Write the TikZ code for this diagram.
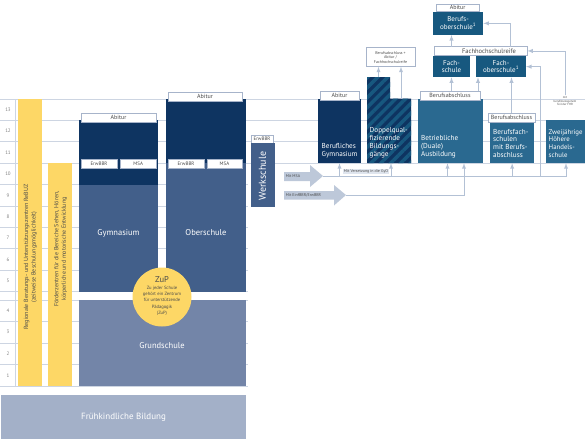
\documentclass[tikz,border=0pt]{standalone}
\usepackage{fontspec}
\setmainfont{PT Sans}
\usetikzlibrary{patterns.meta}

\definecolor{navy}{HTML}{0E3461}
\definecolor{mittel}{HTML}{425F8A}
\definecolor{grund}{HTML}{7385A8}
\definecolor{frueh}{HTML}{A3B0C8}
\definecolor{petrol}{HTML}{17587F}
\definecolor{petrolhell}{HTML}{2A6990}
\definecolor{gelb}{HTML}{FDD766}
\definecolor{linie}{HTML}{CDD5E2}
\definecolor{pfeil}{HTML}{B3C1D5}
\definecolor{rahmen}{HTML}{A7B4CA}
\definecolor{schrift}{HTML}{4A4A4A}
\definecolor{grossgrau}{HTML}{BDC8D9}
\definecolor{etikett}{HTML}{DFE5EE}

\tikzset{
  feldbox/.style={inner sep=0pt, outer sep=0pt, anchor=north west, text=white, align=center, font=\fontsize{7}{7.8}\selectfont},
  schild/.style={draw=rahmen, fill=white, line width=0.7pt, inner sep=0pt, outer sep=0pt, anchor=north west, text=schrift, align=center, font=\fontsize{6}{6.5}\selectfont},
  klschild/.style={schild, font=\fontsize{5}{5.5}\selectfont},
  weiss/.style={text=white, inner sep=0pt, align=left, font=\fontsize{7.2}{7.9}\selectfont},
  gross/.style={text=white, inner sep=0pt, font=\fontsize{8.5}{9}\selectfont},
  gelbtext/.style={rotate=90, align=center, text=schrift, inner sep=0pt, font=\fontsize{6}{7.5}\selectfont},
  nummer/.style={text=gray, inner sep=0pt, font=\fontsize{5}{5}\selectfont},
  winzig/.style={text=schrift, inner sep=0.6pt, align=center, font=\fontsize{4}{4.5}\selectfont},
  verb/.style={draw=pfeil, line width=0.9pt, ->, >=latex},
  gitter/.style={draw=linie, line width=0.8pt},
}

\newcommand{\feld}[7]{\node[feldbox, fill=#6, minimum width=#4pt, minimum height=#5pt] (#1) at (#2,#3) {#7};}
\newcommand{\schild}[6]{\node[schild, minimum width=#4pt, minimum height=#5pt] (#1) at (#2,#3) {#6};}
\newcommand{\klschild}[6]{\node[klschild, minimum width=#4pt, minimum height=#5pt] (#1) at (#2,#3) {#6};}

\begin{document}
\begin{tikzpicture}[x=1pt,y=-1pt]
    \useasboundingbox (0,0) rectangle (585,445);
    % Raster und Jahrgaenge
    \foreach \y in {99,120.4,141.8,163.2} \draw[gitter] (0,\y) -- (585,\y);
    \foreach \y in {184.6,206,227.4,248.8,270.2,291.6,300,321.5,343,364.5,386} \draw[gitter] (0,\y) -- (248,\y);
    \draw[gitter] (15,99) -- (15,386);
    \foreach \n in {5,...,13} \node[nummer] (z\n) at (8,{109.7+(13-\n)*21.4}) {\n};
    \foreach \n in {1,...,4} \node[nummer] (z\n) at (8,{310.75+(4-\n)*21.5}) {\n};

    % Foerderung
    \feld{rebuz}{18}{99}{24}{287}{gelb}{}
    \feld{foerder}{48}{163.2}{24}{222.8}{gelb}{}
    \node[gelbtext] (rebuztext) at (30.5,257) {Regionale Beratungs- und Unterstützungszentren ReBUZ\\(zeitweise Beschulungsmöglichkeit)};
    \node[gelbtext] (foerdertext) at (60.5,249) {Förderzentren für die Bereiche Sehen, Hören,\\körperliche und motorische Entwicklung};

    % Gymnasium, Oberschule, Grundschule
    \feld{gymo}{79}{120.4}{79}{64.2}{navy}{}
    \feld{gymu}{79}{184.6}{79}{107}{mittel}{}
    \schild{gymabi}{81}{113}{75}{9}{Abitur}
    \klschild{gymerw}{81}{159}{36}{9}{ErwBBR}
    \klschild{gymmsa}{120.5}{159}{35.5}{9}{MSA}
    \node[gross] (gymtext) at (118.5,233) {Gymnasium};
    \feld{obso}{166}{99}{80}{64.2}{navy}{}
    \feld{obsu}{166}{163.2}{80}{128.4}{mittel}{}
    \schild{obsabi}{168}{92}{74}{9.5}{Abitur}
    \klschild{obserw}{168}{159}{36}{9}{ErwBBR}
    \klschild{obsmsa}{207}{159}{35}{9}{MSA}
    \node[gross] (obstext) at (206,233) {Oberschule};
    \feld{grund}{79}{300}{167}{86}{grund}{}
    \node[gross] (grundtext) at (162,346) {Grundschule};
    \node[circle, fill=gelb, minimum size=59pt, inner sep=0pt] (zup) at (162,297) {};
    \node[text=schrift, inner sep=0pt, font=\fontsize{8.5}{9}\selectfont] (zuptitel) at (162,280) {ZuP};
    \node[text=schrift, inner sep=0pt, align=center, font=\fontsize{4.6}{6.2}\selectfont, anchor=north] (zuptext) at (162,286) {Zu jeder Schule\\gehört ein Zentrum\\für unterstützende\\Pädagogik\\(ZuP)};
    \feld{frueh}{1}{395}{245}{44}{frueh}{}
    \node[gross, font=\fontsize{9}{9}\selectfont] (fruehtext) at (123.5,417) {Frühkindliche Bildung};

    % Werkschule
    \klschild{werkerw}{251}{135}{22}{8}{ErwBBR}
    \feld{werk}{250.5}{143}{24}{63.5}{mittel}{}
    \node[gross, rotate=90, font=\fontsize{10}{10}\selectfont] (werktext) at (262.5,176) {Werkschule};

    % Uebergaenge
    \fill[grossgrau] (284,172) -- (310,172) -- (310,165) -- (323,176) -- (310,187) -- (310,181) -- (284,181) -- cycle;
    \coordinate (msaspitze) at (323,176);
    \node[winzig, anchor=west] (msatext) at (285,176.5) {Mit MSA};
    \fill[grossgrau] (284,191) -- (334,191) -- (334,185) -- (346,195) -- (334,205.5) -- (334,199.5) -- (284,199.5) -- cycle;
    \coordinate (bbrspitze) at (346,195);
    \node[winzig, anchor=west] (bbrtext) at (285,195.3) {Mit EinfBBR/ErwBBR};

    % Berufliche Bildung
    \feld{bg}{318}{99}{43}{64.2}{navy}{}
    \schild{bgabi}{320}{91}{39}{9}{Abitur}
    \node[weiss, anchor=south west] (bgtext) at (321.5,158) {Berufliches\\Gymnasium};
    \fill[preaction={fill=navy}, pattern={Lines[angle=45,distance=7pt,line width=3.5pt]}, pattern color=petrol]
        (367,77) -- (390,77) -- (390,98.6) -- (411,98.6) -- (411,163.2) -- (367,163.2) -- cycle;
    \coordinate (dqtab) at (378.5,77); \coordinate (dqrechts) at (401,98.6); \coordinate (dqunten) at (391,163.2);
    \node[weiss, anchor=south west] (dqtext) at (369.5,158) {Doppelqual-\\fizierende\\Bildungs-\\gänge};
    \node[schild, winzig, minimum width=49pt, minimum height=19pt] (bafh) at (366,47.7) {Berufsabschluss +\\Abitur /\\Fachhochschulreife};
    \feld{dual}{418}{99}{65}{64.2}{petrolhell}{}
    \schild{dualba}{420}{91}{60}{9}{Berufsabschluss}
    \node[weiss, anchor=south west] (dualtext) at (421,158) {Betriebliche\\(Duale)\\Ausbildung};
    \feld{bfs}{490}{122}{44.3}{41.2}{petrolhell}{}
    \schild{bfsba}{488}{113}{47}{9}{Berufsabschluss}
    \node[weiss, anchor=south west] (bfstext) at (493,158) {Berufsfach-\\schulen\\mit Berufs-\\abschluss};
    \feld{hhs}{546}{120.4}{40}{42.8}{petrolhell}{}
    \node[weiss, anchor=south west, font=\fontsize{6.8}{7.9}\selectfont] (hhstext) at (548.5,158) {Zweijährige\\Höhere\\Handels-\\schule};
    \node[winzig, font=\fontsize{3}{3.8}\selectfont] (hhsfhr) at (565,101) {mit\\berufsbezogenem\\Teil der FHR};
    \feld{fs}{433}{56}{37}{21.3}{petrol}{Fach-\\schule}
    \feld{fos}{476}{56}{50}{21.3}{petrol}{Fach-\\oberschule\textsuperscript{1}}
    \schild{fhr}{434}{46.7}{93.3}{8.5}{}
    \node[text=schrift, inner sep=0pt, font=\fontsize{6.5}{6.5}\selectfont] (fhrtext) at (489,51) {Fachhochschulreife};
    \feld{bos}{433}{11.7}{50.3}{23.3}{petrol}{Berufs-\\oberschule\textsuperscript{1}}
    \schild{bosabi}{436}{4}{43.3}{7.7}{Abitur}
    \node[fill=etikett, winzig] (gyo) at (366,171.5) {Mit Versetzung in die GyO};

    % Pfeile
    \draw[verb] (msaspitze) -| (hhs.south);
    \draw[verb] (bg.south |- msaspitze) -- (bg.south);
    \draw[verb] (dqunten |- msaspitze) -- (dqunten);
    \draw[verb] ([xshift=-3pt]dual.south |- msaspitze) -- ([xshift=-3pt]dual.south);
    \draw[verb] (bfs.south |- msaspitze) -- (bfs.south);
    \draw[verb] (msaspitze -| fos.east) ++(14,0) |- (fos.east);
    \draw[verb] (bbrspitze) -| ([xshift=13.5pt]dual.south);
    \draw[verb] (dqtab) -- (dqtab |- bafh.south);
    \draw[verb] (dqrechts) -- (dqrechts |- bafh.south);
    \draw[verb] (fs.south |- dualba.north) -- (fs.south);
    \draw[verb] ([xshift=-2pt]dualba.north east) -- ([xshift=-2pt]dualba.north east |- fos.south);
    \draw[verb] (bfsba.north) -- (bfsba.north |- fos.south);
    \draw[verb] (fs.north |- fhr.north) -- (fs.north |- bos.south);
    \draw[verb] ([xshift=-17pt]fhr.north east) |- (bos.east);
    \draw[verb] (hhsfhr.north) |- (fhr.east);
\end{tikzpicture}
\end{document}
